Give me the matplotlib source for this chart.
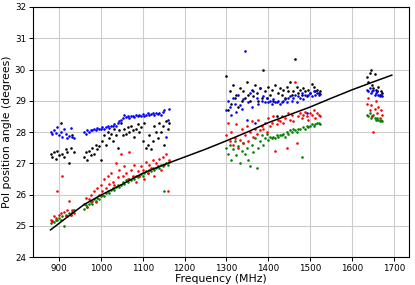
import numpy as np
import matplotlib
matplotlib.use("Agg")
import matplotlib.pyplot as plt

# Frequencies per band (MHz)
f_b1 = list(range(880, 937, 4))          # 15
f_b2 = list(range(960, 1165, 4))         # 52
f_b3 = list(range(1300, 1525, 4))        # 57
f_b4 = list(range(1636, 1673, 3))        # 13

blue_b1 = [28.0, 27.95, 28.05, 27.98, 28.15, 27.9, 28.0, 27.85, 28.1, 27.95, 27.82, 27.88, 28.12, 27.85, 27.8]
black_b1 = [27.3, 27.2, 27.35, 27.15, 27.4, 27.25, 28.3, 27.3, 27.2, 27.45, 27.35, 27.0, 27.5, 27.9, 27.35]
red_b1 = [25.2, 25.15, 25.3, 25.25, 26.1, 25.35, 25.4, 26.6, 25.45, 25.3, 25.5, 25.8, 25.35, 25.5, 25.4]
green_b1 = [25.1, 25.15, 25.12, 25.2, 25.18, 25.25, 25.2, 25.3, 25.0, 25.35, 25.3, 25.4, 25.35, 25.45, 25.5]

blue_b2 = [28.0, 27.95, 28.05, 28.0, 28.08, 28.05, 28.1, 28.05, 28.12, 28.1, 28.1,
           28.15, 28.1, 28.15, 28.2, 28.12, 28.18, 28.2, 28.25, 28.2, 28.3, 28.35,
           28.4, 28.45, 28.55, 28.48, 28.5, 28.45, 28.5, 28.52, 28.48, 28.55, 28.5,
           28.55, 28.52, 28.58, 28.5, 28.55, 28.6, 28.55, 28.58, 28.62, 28.55, 28.6,
           28.58, 28.62, 28.55, 28.65, 28.7, 27.85, 28.4, 28.75]
black_b2 = [27.2, 27.35, 27.1, 27.4, 27.25, 27.5, 27.3, 27.6, 27.45, 27.55, 27.1,
            27.7, 27.9, 27.6, 28.0, 27.8, 27.95, 27.7, 28.1, 27.9, 27.5, 28.05,
            28.3, 27.9, 28.1, 27.95, 28.15, 28.0, 28.2, 28.05, 27.85, 28.1, 28.25,
            28.0, 28.15, 27.7, 28.3, 27.5, 27.6, 27.9, 27.45, 27.7, 28.2, 28.0,
            27.8, 28.3, 28.0, 28.2, 27.6, 28.35, 28.1, 28.3]
red_b2 = [25.7, 25.9, 25.6, 25.85, 26.0, 25.8, 26.1, 25.75, 26.2, 26.0, 26.3,
          26.1, 26.5, 26.2, 26.6, 26.35, 26.7, 26.4, 26.3, 27.0, 26.55, 26.8,
          27.3, 26.6, 26.9, 26.7, 26.5, 27.35, 26.8, 26.6, 26.95, 26.4, 26.75,
          26.6, 26.9, 26.8, 26.5, 27.05, 26.7, 26.95, 26.85, 27.1, 26.6, 27.0,
          26.9, 27.15, 26.8, 27.2, 26.95, 27.3, 26.1, 27.1]
green_b2 = [25.55, 25.65, 25.6, 25.7, 25.75, 25.7, 25.85, 25.8, 25.9, 25.85, 25.95,
            26.0, 25.95, 26.05, 26.1, 26.05, 26.15, 26.2, 26.15, 26.25, 26.3, 26.25,
            26.3, 26.4, 26.35, 26.45, 26.4, 26.5, 26.45, 26.55, 26.5, 26.6, 26.55,
            26.6, 26.65, 26.6, 26.7, 26.75, 26.7, 26.8, 26.75, 26.85, 26.8, 26.85,
            26.9, 26.85, 26.95, 26.9, 26.1, 27.0, 26.95, 27.05]

blue_b3 = [28.7, 29.0, 28.8, 28.55, 29.1, 28.9, 28.65, 29.2, 28.85, 28.75, 29.05,
           30.6, 28.4, 28.95, 29.25, 28.8, 29.3, 28.3, 29.1, 28.9, 29.4, 29.0,
           29.15, 28.95, 29.1, 28.95, 29.0, 28.9, 29.05, 28.95, 28.95, 29.0, 28.9,
           28.95, 29.0, 29.05, 28.95, 29.1, 29.15, 29.0, 29.1, 29.2, 28.95, 29.15,
           29.1, 29.25, 29.05, 29.2, 28.6, 29.2, 29.25, 29.15, 29.3, 29.2, 29.25,
           29.2, 29.22]
black_b3 = [29.8, 28.7, 29.3, 28.9, 29.5, 29.1, 29.2, 28.8, 29.4, 29.0, 29.3,
            29.1, 29.6, 29.2, 29.0, 29.35, 29.15, 29.5, 29.25, 29.0, 29.4, 29.1,
            30.0, 29.3, 29.1, 29.45, 29.2, 29.35, 29.0, 29.5, 28.5, 29.25, 29.4,
            29.2, 29.35, 29.1, 29.45, 29.3, 29.6, 29.2, 29.3, 30.35, 29.45, 29.25,
            29.35, 29.2, 29.4, 29.3, 29.15, 29.35, 29.25, 29.55, 29.45, 29.3, 29.35,
            29.25, 29.3]
red_b3 = [27.9, 28.3, 27.7, 28.0, 27.6, 27.8, 28.25, 27.5, 27.75, 28.1, 27.65,
          27.9, 28.2, 27.7, 28.0, 28.35, 27.85, 28.1, 27.95, 28.4, 28.05, 28.2,
          28.1, 28.3, 28.0, 28.45, 28.2, 28.3, 28.5, 27.4, 28.25, 28.4, 28.35,
          28.5, 28.3, 28.45, 27.5, 28.6, 28.4, 28.55, 28.35, 29.6, 27.65, 28.5,
          28.6, 28.45, 28.55, 28.65, 28.5, 28.4, 28.6, 28.55, 28.7, 28.45, 28.6,
          28.55, 28.5]
green_b3 = [27.5, 27.3, 27.6, 27.1, 27.45, 27.7, 27.25, 27.55, 27.0, 27.4, 27.65,
            27.3, 27.5, 27.1, 26.9, 27.6, 27.35, 27.8, 26.85, 27.5, 27.7, 27.9,
            27.6, 27.8, 27.95, 27.75, 27.85, 27.8, 27.85, 27.8, 27.9, 27.85, 27.9,
            27.9, 27.95, 27.85, 28.0, 27.95, 28.05, 28.0, 28.1, 28.05, 28.0, 28.1,
            28.1, 27.2, 28.15, 28.1, 28.2, 28.15, 28.2, 28.25, 28.2, 28.25, 28.3,
            28.3, 28.25]

black_b4 = [29.75, 29.6, 29.9, 30.0, 29.5, 29.4, 29.85, 29.35, 29.3, 29.45, 29.2, 29.3, 29.25]
blue_b4 = [29.35, 29.3, 29.4, 29.25, 29.3, 29.35, 29.2, 29.25, 29.3, 29.2, 29.15, 29.2, 29.15]
red_b4 = [28.9, 29.1, 28.7, 28.85, 28.5, 28.0, 28.75, 29.0, 28.6, 28.8, 28.45, 28.7, 28.55]
green_b4 = [28.55, 28.5, 28.6, 28.45, 28.5, 28.55, 28.45, 28.4, 28.45, 28.4, 28.35, 28.4, 28.35]

# Fit line
fit_f = [880, 920, 960, 1000, 1050, 1100, 1150, 1200, 1250, 1300, 1350, 1400, 1450, 1500, 1550, 1600, 1650, 1695]
fit_v = [24.87, 25.28, 25.68, 25.98, 26.32, 26.68, 26.95, 27.2, 27.45, 27.72, 28.0, 28.3, 28.55, 28.8, 29.08, 29.35, 29.6, 29.82]

freq = f_b1 + f_b2 + f_b3 + f_b4
series = [
    ("green", green_b1 + green_b2 + green_b3 + green_b4),
    ("red", red_b1 + red_b2 + red_b3 + red_b4),
    ("black", black_b1 + black_b2 + black_b3 + black_b4),
    ("blue", blue_b1 + blue_b2 + blue_b3 + blue_b4),
]

fig = plt.figure(figsize=(4.15, 2.85), dpi=100)
ax = fig.add_axes([0.0795, 0.098, 0.906, 0.8775])
for color, vals in series:
    ax.scatter(freq, vals, s=3.5, color=color, linewidths=0, zorder=3)
ax.plot(fit_f, fit_v, color="black", lw=1.1, zorder=4)

ax.set_ylim(24, 32)
ax.set_xlim(838, 1736)
ax.set_xticks([900, 1000, 1100, 1200, 1300, 1400, 1500, 1600, 1700])
ax.set_yticks(range(24, 33))
ax.grid(True, color="#cccccc", lw=0.8, zorder=0)
ax.set_axisbelow(True)
ax.tick_params(labelsize=6.3, length=3, width=0.7, pad=2)
for sp in ax.spines.values():
    sp.set_linewidth(0.8)
ax.set_xlabel("Frequency (MHz)", fontsize=7.8, labelpad=1)
ax.set_ylabel("Pol position angle (degrees)", fontsize=7.8, labelpad=2)

fig.savefig("out.png", dpi=100)
